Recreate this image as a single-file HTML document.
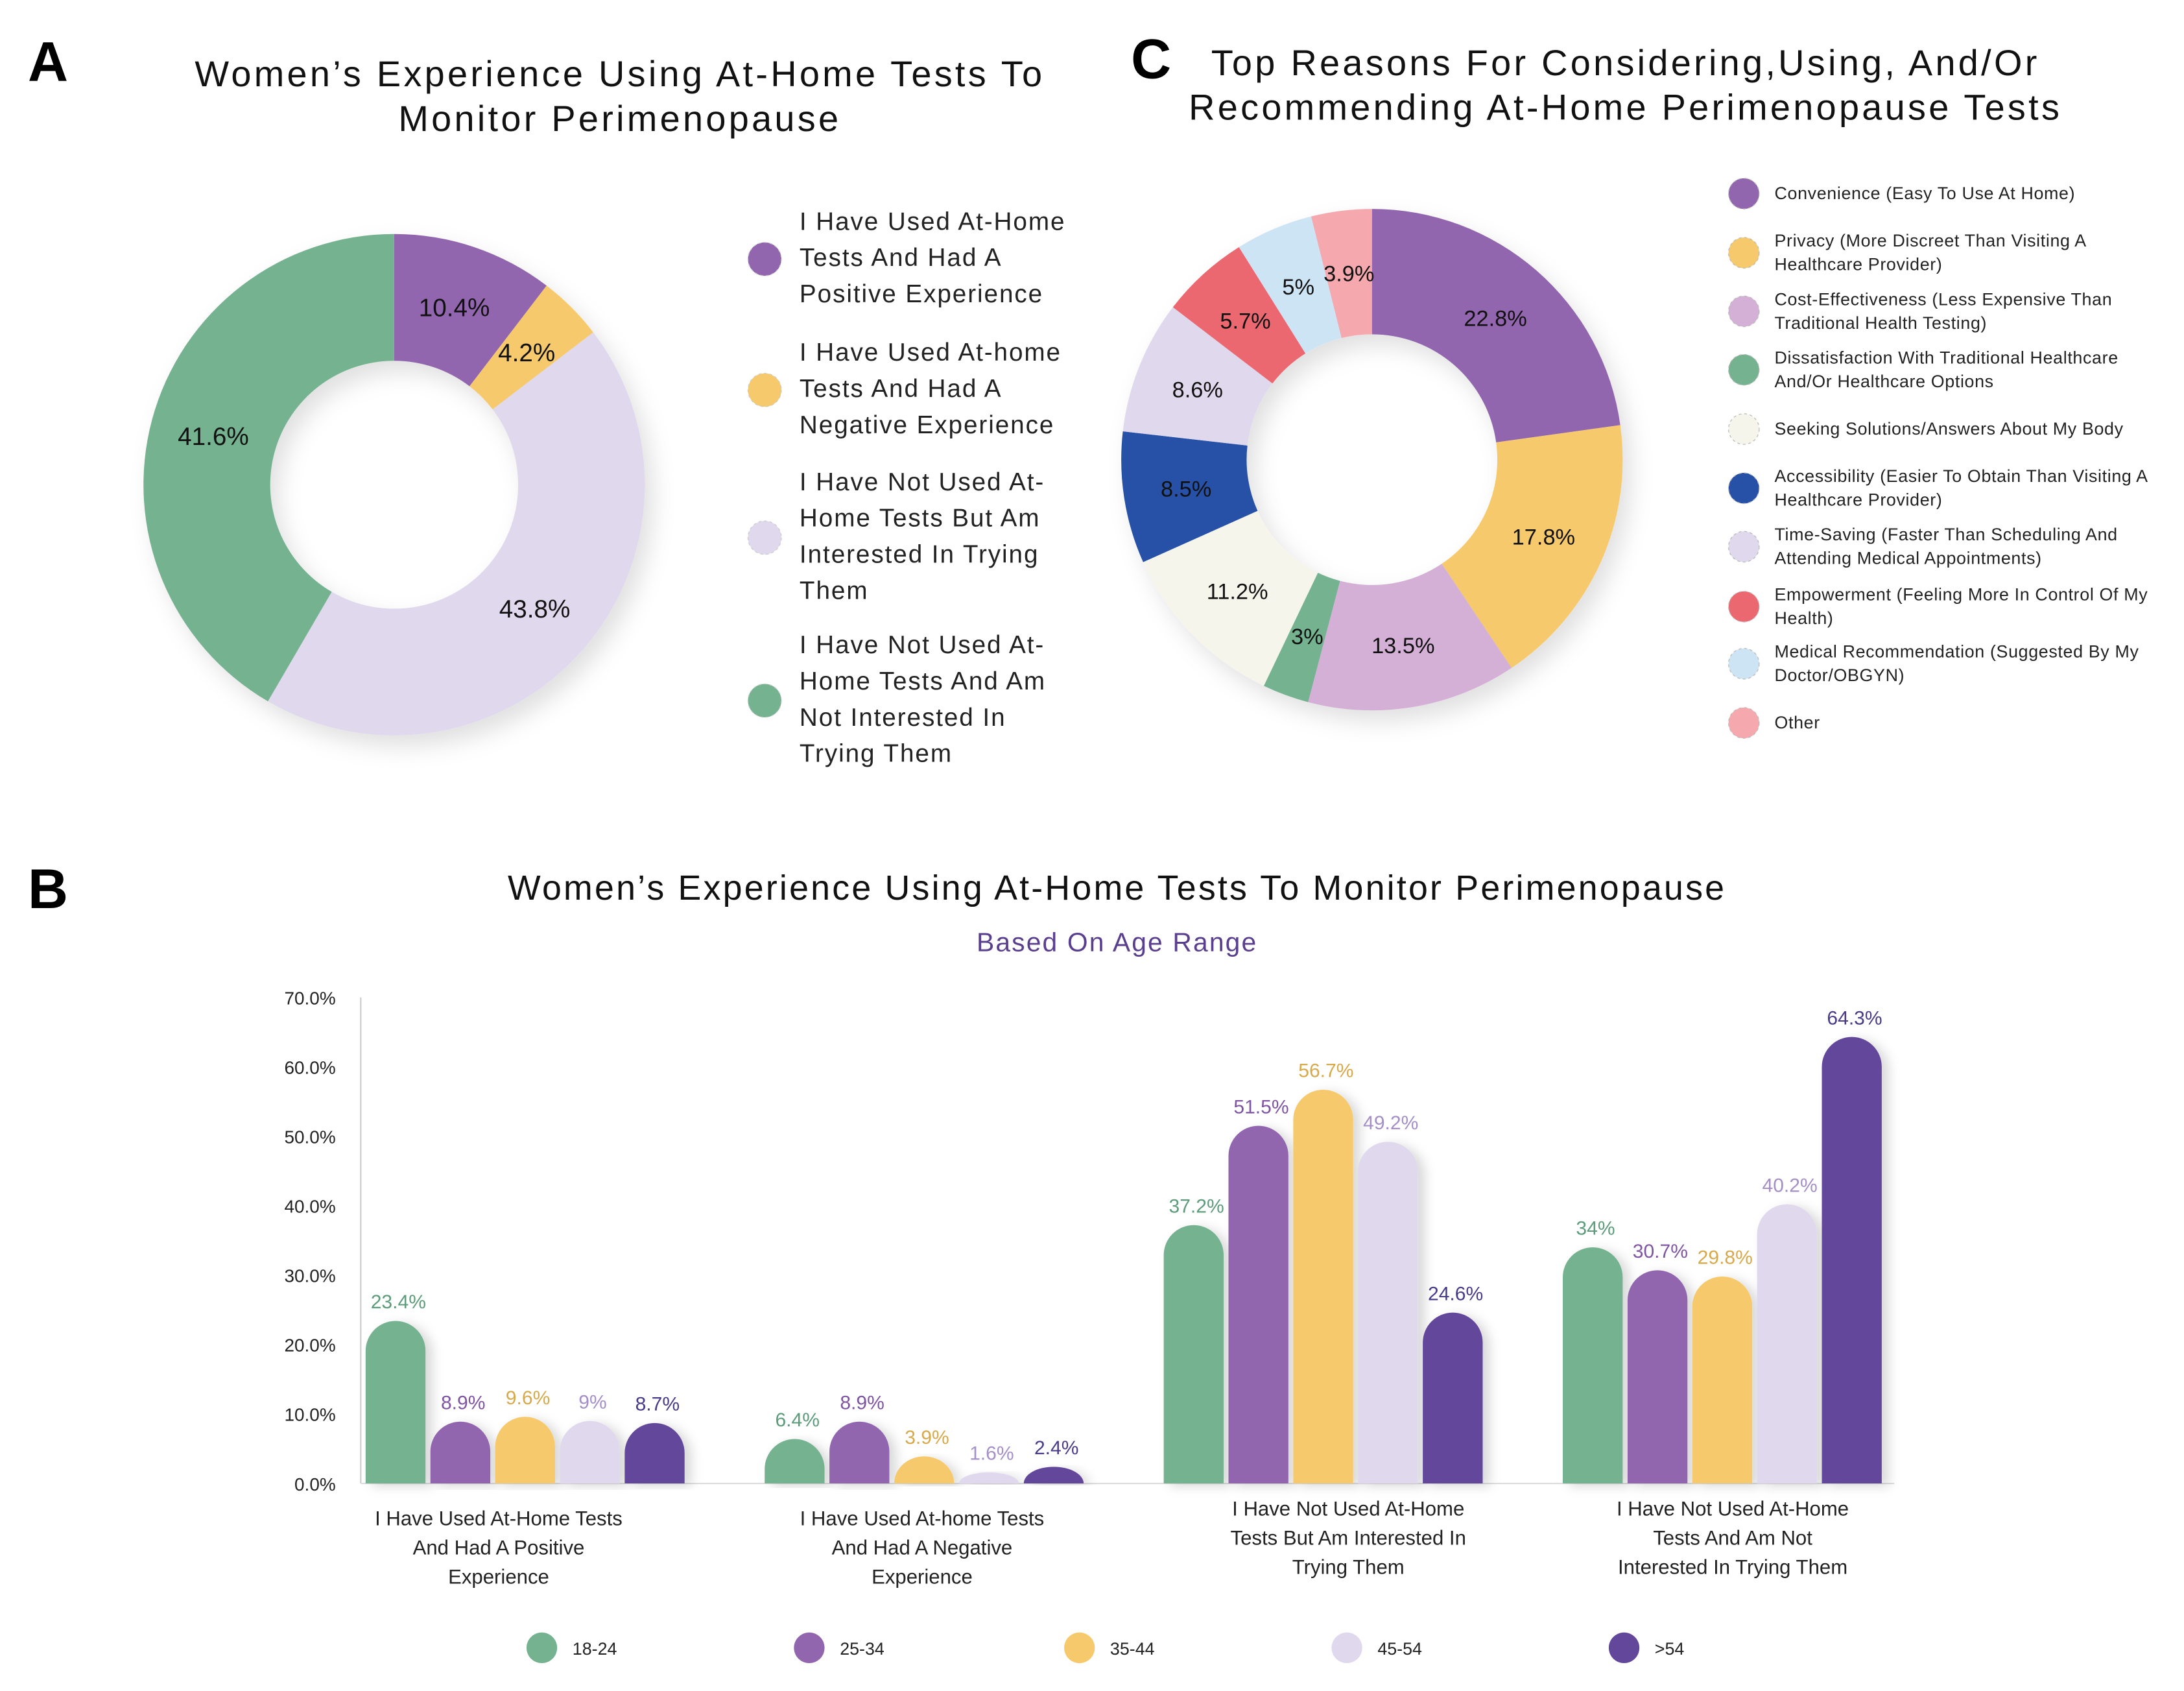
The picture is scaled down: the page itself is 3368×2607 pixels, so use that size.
<!DOCTYPE html>
<html><head><meta charset="utf-8">
<style>
html,body{margin:0;padding:0;background:#fff;}
svg{display:block;font-family:"Liberation Sans",sans-serif;}
</style></head>
<body>
<svg id="root" width="3368" height="2607" viewBox="0 0 1568 1214" preserveAspectRatio="none" xmlns="http://www.w3.org/2000/svg">
<defs>
<filter id="sh" x="-20%" y="-20%" width="140%" height="140%"><feDropShadow dx="6" dy="8" stdDeviation="8" flood-color="#000" flood-opacity="0.12"/></filter>
<filter id="bsh" x="-30%" y="-10%" width="160%" height="120%"><feDropShadow dx="5" dy="2" stdDeviation="4" flood-color="#000" flood-opacity="0.15"/></filter>
</defs>
<rect width="1568" height="1214" fill="#fff"/>
<text x="20" y="58" font-size="40" font-weight="bold">A</text>
<text x="812" y="56" font-size="40" font-weight="bold">C</text>
<text x="20" y="652" font-size="40" font-weight="bold">B</text>

<g font-size="26" text-anchor="middle" fill="#111" letter-spacing="2">
<text x="445" y="62">Women’s Experience Using At-Home Tests To</text>
<text x="445" y="94">Monitor Perimenopause</text>
</g>
<g font-size="26" text-anchor="middle" fill="#111" letter-spacing="2">
<text x="1167" y="54">Top Reasons For Considering,Using, And/Or</text>
<text x="1167" y="86">Recommending At-Home Perimenopause Tests</text>
</g>
<g id="donutA" filter="url(#sh)"></g>
<g id="donutAL"></g>
<g id="legendA"></g>
<g id="donutC" filter="url(#sh)"></g>
<g id="donutCL"></g>
<g id="legendC"></g>

<g text-anchor="middle">
<text x="802" y="646" font-size="25" fill="#111" letter-spacing="1.5">Women’s Experience Using At-Home Tests To Monitor Perimenopause</text>
<text x="802" y="683" font-size="19" fill="#5a3f8e" letter-spacing="1">Based On Age Range</text>
</g>
<g id="barB"></g>

<script>
const NS="http://www.w3.org/2000/svg";
function mk(tag,attrs,parent,txt){const e=document.createElementNS(NS,tag);for(const k in attrs)e.setAttribute(k,attrs[k]);if(txt!==undefined)e.textContent=txt;parent.appendChild(e);return e;}

// ---------- Chart A data ----------
const aLabels=[["I Have Used At-Home","Tests And Had A","Positive Experience"],["I Have Used At-home","Tests And Had A","Negative Experience"],["I Have Not Used At-","Home Tests But Am","Interested In Trying","Them"],["I Have Not Used At-","Home Tests And Am","Not Interested In","Trying Them"]];
const aValues=[10.4,4.2,43.8,41.6];
const aColors=["#9266ae","#f5c96c","#e0d8ec","#74b290"];

// ---------- Chart C data ----------
const cLabels=[["Convenience (Easy To Use At Home)"],["Privacy (More Discreet Than Visiting A","Healthcare Provider)"],["Cost-Effectiveness (Less Expensive Than","Traditional Health Testing)"],["Dissatisfaction With Traditional Healthcare","And/Or Healthcare Options"],["Seeking Solutions/Answers About My Body"],["Accessibility (Easier To Obtain Than Visiting A","Healthcare Provider)"],["Time-Saving (Faster Than Scheduling And","Attending Medical Appointments)"],["Empowerment (Feeling More In Control Of My","Health)"],["Medical Recommendation (Suggested By My","Doctor/OBGYN)"],["Other"]];
const cValues=[22.8,17.8,13.5,3,11.2,8.5,8.6,5.7,5,3.9];
const cColors=["#9266ae","#f5c96c","#d4b0d6","#74b290","#f5f5ec","#2651a6","#e0d8ec","#ec6870","#cde4f5","#f5a9ae"];

// ---------- Chart B data ----------
const bCategories=[["I Have Used At-Home Tests","And Had A Positive","Experience"],["I Have Used At-home Tests","And Had A Negative","Experience"],["I Have Not Used At-Home","Tests But Am Interested In","Trying Them"],["I Have Not Used At-Home","Tests And Am Not","Interested In Trying Them"]];
const bAges=["18-24","25-34","35-44","45-54",">54"];
const s1824=[23.4,6.4,37.2,34];
const s2534=[8.9,8.9,51.5,30.7];
const s3544=[9.6,3.9,56.7,29.8];
const s4554=[9,1.6,49.2,40.2];
const sOver54=[8.7,2.4,24.6,64.3];
const bTicks=[0,10,20,30,40,50,60,70];
const bColors=["#74b290","#9266ae","#f5c96c","#e0d8ec","#62479a"];
const bLabelColors=["#5d9c7a","#7f55a3","#d7a94a","#a58fc8","#4a3a8a"];

function donut(g,lg,cx,cy,R,r,vals,cols,fs){
  const tot=vals.reduce((a,b)=>a+b,0);let a0=-Math.PI/2;
  vals.forEach((v,i)=>{
    const a1=a0+v/tot*2*Math.PI,lg2=(a1-a0)>Math.PI?1:0;
    const p=(rr,a)=>[cx+rr*Math.cos(a),cy+rr*Math.sin(a)];
    const [x0,y0]=p(R,a0),[x1,y1]=p(R,a1),[x2,y2]=p(r,a1),[x3,y3]=p(r,a0);
    const path=mk('path',{d:`M${x0},${y0}A${R},${R} 0 ${lg2} 1 ${x1},${y1}L${x2},${y2}A${r},${r} 0 ${lg2} 0 ${x3},${y3}Z`,fill:cols[i]},g);
    
    
    const am=(a0+a1)/2,[lx,ly]=p((R+r)/2,am);
    const t=mk('text',{x:lx,y:ly+fs*0.36,'font-size':fs,'text-anchor':'middle',fill:'#111'},lg,v+'%');
    
    
    a0=a1;
  });
}
donut(document.getElementById('donutA'),document.getElementById('donutAL'),283,348,180,89,aValues,aColors,18);
donut(document.getElementById('donutC'),document.getElementById('donutCL'),985,330,180,90,cValues,cColors,16);

// legend A
const legA=document.getElementById('legendA');
const aY=[165,259,352,469];
aLabels.forEach((lines,i)=>{
  const cy=aY[i]+(lines.length-1)*13-5;
  const c=mk('circle',{cx:549,cy:cy,r:12,fill:aColors[i],stroke:'#ccc','stroke-width':0.6,'stroke-dasharray':'2 2'},legA);
  
  
  lines.forEach((l,j)=>{const t=mk('text',{x:574,y:aY[i]+j*26,'font-size':18,fill:'#222','letter-spacing':0.9},legA,l);
    
    });
});
// legend C
const legC=document.getElementById('legendC');
const cY=[143,177,219,261,312,346,388,431,472,523];
cLabels.forEach((lines,i)=>{
  const cy=cY[i]+(lines.length-1)*8.5-4;
  const c=mk('circle',{cx:1252,cy:cy,r:11,fill:cColors[i],stroke:'#bbb','stroke-width':0.6,'stroke-dasharray':'2 2'},legC);
  
  
  lines.forEach((l,j)=>{const t=mk('text',{x:1274,y:cY[i]+j*17,'font-size':12.5,fill:'#222','letter-spacing':0.3},legC,l);
    
    });
});

// bar chart B
const gB=document.getElementById('barB');
const y0=1065,y70=716;
const yS=v=>y0-(v/70)*(y0-y70);
const xS=(g,k)=>284+g*286.5+k*46.5;
const bw=43;
bTicks.forEach(t=>{const e=mk('text',{x:241,y:yS(t)+5,'font-size':13,'text-anchor':'end',fill:'#222'},gB,t.toFixed(1)+'%');
  
  });
const ax=mk('line',{x1:259,y1:716,x2:259,y2:y0,stroke:'#ccc','stroke-width':1},gB);


const bx=mk('line',{x1:259,y1:y0,x2:1360,y2:y0,stroke:'#ddd','stroke-width':1},gB);


const series=[s1824,s2534,s3544,s4554,sOver54];
series.forEach((s,k)=>{
  s.forEach((v,g)=>{
    const cx=xS(g,k),top=yS(v),h=y0-top,r=Math.min(bw/2,h),l=cx-bw/2,rt=cx+bw/2;
    const p=mk('path',{d:`M${l},${y0}L${l},${top+r}A${bw/2},${r} 0 0 1 ${rt},${top+r}L${rt},${y0}Z`,fill:bColors[k],filter:'url(#bsh)'},gB);
    
    
    const t=mk('text',{x:cx+2,y:top-9,'font-size':14,'text-anchor':'middle',fill:bLabelColors[k]},gB,v+'%');
    
    
  });
});
const catX=[358,662,968,1244],catY=[1095,1095,1088,1088];
bCategories.forEach((lines,g)=>{lines.forEach((l,j)=>{
  const t=mk('text',{x:catX[g],y:catY[g]+j*21,'font-size':14.5,'text-anchor':'middle',fill:'#222'},gB,l);
  
  });});
const legX=[389,581,775,967,1166];
bAges.forEach((a,k)=>{
  const c=mk('circle',{cx:legX[k],cy:1183,r:11,fill:bColors[k]},gB);
  
  
  const t=mk('text',{x:legX[k]+22,y:1188,'font-size':12.5,fill:'#222'},gB,a);
  
  
});
</script>
</svg>
</body></html>
